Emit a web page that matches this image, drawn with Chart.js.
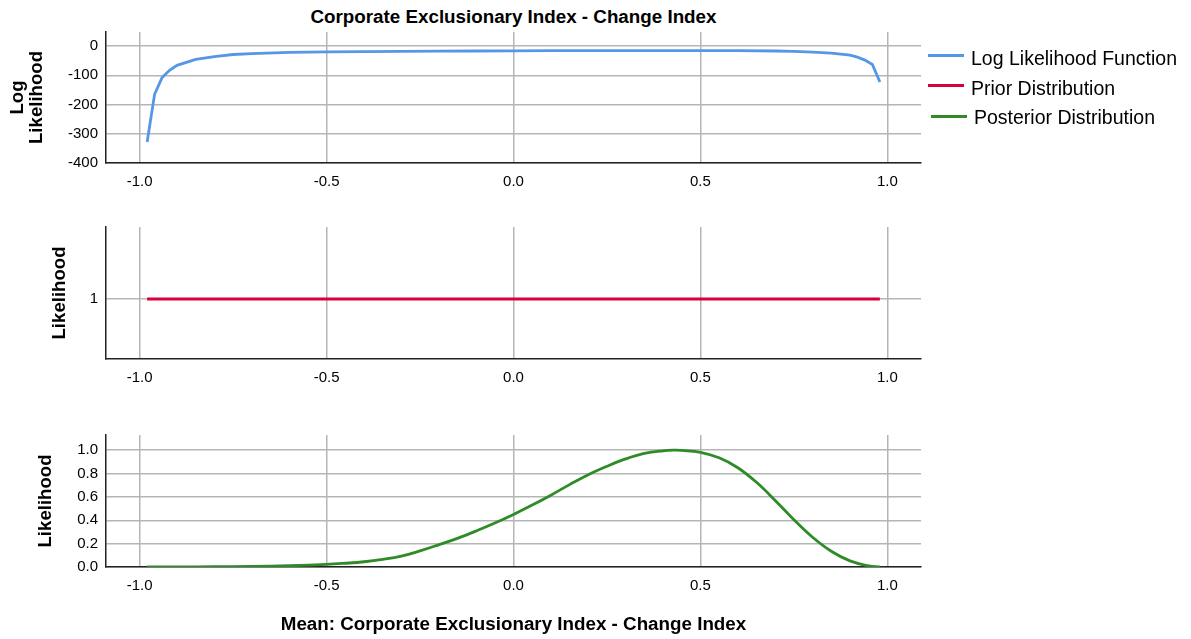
<!DOCTYPE html>
<html>
<head>
<meta charset="utf-8">
<title>Corporate Exclusionary Index - Change Index</title>
<script src="https://cdn.jsdelivr.net/npm/chart.js@4.4.1/dist/chart.umd.min.js"></script>
<style>
  html, body { margin: 0; padding: 0; background: #fff; }
  #wrap { position: relative; width: 1191px; height: 639px; overflow: hidden;
          font-family: 'Liberation Sans', Arial, sans-serif; color: #000; }
  #wrap canvas { position: absolute; left: 0; }
  #title { position: absolute; left: 106px; width: 815px; top: 0; height: 34px; line-height: 34px;
           text-align: center; font-weight: bold; font-size: 18.8px; }
  .sw { position: absolute; width: 36px; height: 3px; }
  .lt { position: absolute; height: 24px; line-height: 24px; font-size: 19.5px; white-space: nowrap; }
</style>
</head>
<body>
<div id="wrap">
  <div id="title">Corporate Exclusionary Index - Change Index</div>
  <canvas id="c1" width="1191" height="200" style="top:0px"></canvas>
  <canvas id="c2" width="1191" height="200" style="top:200px"></canvas>
  <canvas id="c3" width="1191" height="239" style="top:400px"></canvas>
  <div id="legend"></div>
</div>
<script>
// Shared x axis: mean of the index
const xTickValues = [-1, -0.5, 0, 0.5, 1];
const xTickLabels = ['-1.0', '-0.5', '0.0', '0.5', '1.0'];

// Log likelihood function
const llX = [-0.98, -0.96, -0.94, -0.92, -0.90, -0.85, -0.80, -0.75, -0.70, -0.60, -0.50, -0.40,
             -0.30, -0.20, -0.10, 0, 0.10, 0.20, 0.30, 0.40, 0.50, 0.60, 0.70, 0.75, 0.80, 0.85,
             0.90, 0.92, 0.94, 0.96, 0.98];
const llY = [-328, -165, -108, -83, -66, -46, -36, -29, -26, -22, -20, -19,
             -18, -17.5, -17, -16.5, -16, -15.5, -15.5, -15.5, -15.5, -16, -17, -18.5, -20.5, -24,
             -31, -38, -48, -63, -123];
const llTickValues = [0, -100, -200, -300, -400];
const llTickLabels = ['0', '-100', '-200', '-300', '-400'];

// Prior distribution (uniform)
const priorX = [-0.98, 0.98];
const priorY = [1, 1];
const priorTickValues = [1];
const priorTickLabels = ['1'];

// Posterior distribution
const postX = [-0.98, -0.9, -0.8, -0.7, -0.6, -0.5, -0.45, -0.4, -0.35, -0.3, -0.25, -0.2, -0.15,
               -0.1, -0.05, 0, 0.05, 0.1, 0.15, 0.2, 0.25, 0.3, 0.35, 0.4, 0.43, 0.45, 0.5, 0.55,
               0.6, 0.65, 0.7, 0.75, 0.8, 0.85, 0.9, 0.95, 0.98];
const postY = [0, 0.0005, 0.002, 0.005, 0.011, 0.022, 0.032, 0.045, 0.065, 0.093, 0.138, 0.19, 0.245,
               0.308, 0.376, 0.45, 0.53, 0.615, 0.705, 0.79, 0.862, 0.925, 0.972, 0.995, 1.0, 0.998, 0.982, 0.935,
               0.85, 0.725, 0.57, 0.405, 0.255, 0.135, 0.052, 0.01, 0];
const postTickValues = [0, 0.2, 0.4, 0.6, 0.8, 1.0];
const postTickLabels = ['0.0', '0.2', '0.4', '0.6', '0.8', '1.0'];

const seriesNames = ['Log Likelihood Function', 'Prior Distribution', 'Posterior Distribution'];
const seriesColors = ['#5597e6', '#d7003c', '#2e8b27'];

const FONT = "'Liberation Sans', Arial, sans-serif";
const GRID = '#b5b5b5';
const AXIS = '#222222';
Chart.defaults.font.family = FONT;

function panel(id, o) {
  return new Chart(document.getElementById(id), {
    type: 'line',
    data: {
      datasets: [{
        label: o.label,
        data: o.xs.map((x, i) => ({ x: x, y: o.ys[i] })),
        borderColor: o.color,
        backgroundColor: o.color,
        borderWidth: 2.8,
        pointRadius: 0,
        fill: false,
        tension: o.tension || 0
      }]
    },
    options: {
      responsive: false,
      animation: false,
      devicePixelRatio: 1,
      layout: { padding: { top: o.padTop, right: 270, left: 0, bottom: 0 } },
      plugins: { legend: { display: false }, tooltip: { enabled: false } },
      scales: {
        x: {
          type: 'linear', min: -1.09, max: 1.09,
          afterBuildTicks: s => { s.ticks = xTickValues.map(v => ({ value: v })); },
          afterFit: s => { s.height = o.xHeight; },
          ticks: { callback: (v, i) => xTickLabels[i], padding: 10, color: '#000',
                   font: { size: 15 }, autoSkip: false, maxRotation: 0 },
          grid: { color: GRID, lineWidth: 1.5, drawTicks: false },
          border: { color: AXIS, width: 1.5 },
          title: o.xTitle
            ? { display: true, text: o.xTitle, color: '#000', font: { size: 18.8, weight: 'bold' },
                padding: { top: 0, bottom: 3 } }
            : { display: false }
        },
        y: {
          type: 'linear', min: o.yMin, max: o.yMax,
          afterBuildTicks: s => { s.ticks = o.tickValues.map(v => ({ value: v })); },
          afterFit: s => { s.width = 106; },
          ticks: { callback: (v, i) => o.tickLabels[i], padding: 8, color: '#000',
                   font: { size: 15 }, autoSkip: false },
          grid: { color: GRID, lineWidth: 1.5, drawTicks: false },
          border: { color: AXIS, width: 1.5 },
          title: { display: true, text: o.yTitle, color: '#000',
                   font: { size: 18.6, weight: 'bold', lineHeight: 1.0 },
                   padding: { top: o.yTitlePad, bottom: 0 } }
        }
      }
    }
  });
}

panel('c1', { label: seriesNames[0], color: seriesColors[0], xs: llX, ys: llY,
  yMin: -400, yMax: 48, tickValues: llTickValues, tickLabels: llTickLabels,
  yTitle: ['Log', 'Likelihood'], yTitlePad: 9, padTop: 32, xHeight: 37 });

panel('c2', { label: seriesNames[1], color: seriesColors[1], xs: priorX, ys: priorY,
  yMin: 0.5, yMax: 1.6, tickValues: priorTickValues, tickLabels: priorTickLabels,
  yTitle: 'Likelihood', yTitlePad: 51, padTop: 27, xHeight: 41 });

panel('c3', { label: seriesNames[2], color: seriesColors[2], xs: postX, ys: postY, tension: 0.4,
  yMin: 0, yMax: 1.13, tickValues: postTickValues, tickLabels: postTickLabels,
  yTitle: 'Likelihood', yTitlePad: 37, padTop: 35, xHeight: 72,
  xTitle: 'Mean: Corporate Exclusionary Index - Change Index' });

// Legend to the right of the top panel
const legend = document.getElementById('legend');
const rows = [
  { sx: 928, sy: 55, tx: 971, ty: 58 },
  { sx: 928, sy: 85, tx: 971, ty: 88 },
  { sx: 931, sy: 116, tx: 974, ty: 117 }
];
seriesNames.forEach((name, i) => {
  const r = rows[i];
  const sw = document.createElement('div');
  sw.className = 'sw';
  sw.style.left = r.sx + 'px';
  sw.style.top = (r.sy - 1.5) + 'px';
  sw.style.background = seriesColors[i];
  const t = document.createElement('div');
  t.className = 'lt';
  t.style.left = r.tx + 'px';
  t.style.top = (r.ty - 12) + 'px';
  t.textContent = name;
  legend.appendChild(sw);
  legend.appendChild(t);
});
</script>
</body>
</html>
